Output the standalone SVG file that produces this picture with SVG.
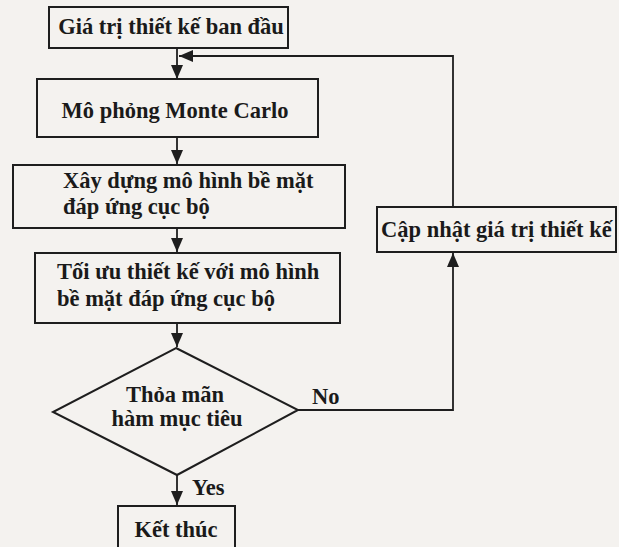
<svg xmlns="http://www.w3.org/2000/svg" width="619" height="547" viewBox="0 0 619 547">
<defs>
<style>
.box{fill:none;stroke:#1e1e1e;stroke-width:2}
.ln{fill:none;stroke:#1e1e1e;stroke-width:1.8}
text{font-family:"Liberation Serif","Times New Roman",serif;font-weight:bold;fill:#1a1a1a}
.t{font-size:22.5px}
.c{text-anchor:middle}
</style>
<marker id="ah" viewBox="0 0 14 12" refX="14" refY="6" markerWidth="14" markerHeight="12" markerUnits="userSpaceOnUse" orient="auto">
<path d="M0,0 L14,6 L0,12 Z" fill="#1e1e1e"/>
</marker>
</defs>
<rect x="0" y="0" width="619" height="547" fill="#f4f2ef"/>
<g id="connectors">
<line class="ln" x1="177" y1="48" x2="177" y2="79" marker-end="url(#ah)"/>
<polyline class="ln" points="453,207 453,56 179,56" marker-end="url(#ah)"/>
<line class="ln" x1="177" y1="137" x2="177" y2="164" marker-end="url(#ah)"/>
<line class="ln" x1="177" y1="228" x2="177" y2="252" marker-end="url(#ah)"/>
<line class="ln" x1="177" y1="323" x2="177" y2="347" marker-end="url(#ah)"/>
<line class="ln" x1="177" y1="475" x2="177" y2="505" marker-end="url(#ah)"/>
<polyline class="ln" points="298,410 453,410 453,253" marker-end="url(#ah)"/>
<text class="t" x="192" y="495">Yes</text>
<text class="t" x="312" y="404">No</text>
</g>
<g id="n1">
<rect class="box" x="49" y="7" width="239" height="41"/>
<text class="t c" x="171" y="34">Giá trị thiết kế ban đầu</text>
</g>
<g id="n2">
<rect class="box" x="37" y="79" width="281" height="58"/>
<text class="t c" x="175" y="118">Mô phỏng Monte Carlo</text>
</g>
<g id="n3">
<rect class="box" x="13" y="165" width="332" height="63"/>
<text class="t" x="63" y="188">Xây dựng mô hình bề mặt</text>
<text class="t" x="63" y="214">đáp ứng cục bộ</text>
</g>
<g id="n4">
<rect class="box" x="35" y="253" width="305" height="70"/>
<text class="t" x="57" y="279">Tối ưu thiết kế với mô hình</text>
<text class="t" x="57" y="306">bề mặt đáp ứng cục bộ</text>
</g>
<g id="n5">
<polygon class="box" points="176,348 298,410 177,475 53,412"/>
<text class="t c" x="175" y="402">Thỏa mãn</text>
<text class="t c" x="177" y="426">hàm mục tiêu</text>
</g>
<g id="n6">
<rect class="box" x="118" y="506" width="117" height="45"/>
<text class="t c" x="176" y="537">Kết thúc</text>
</g>
<g id="n7">
<rect class="box" x="377" y="207" width="239" height="45"/>
<text class="t" x="381" y="237">Cập nhật giá trị thiết kế</text>
</g>
</svg>
